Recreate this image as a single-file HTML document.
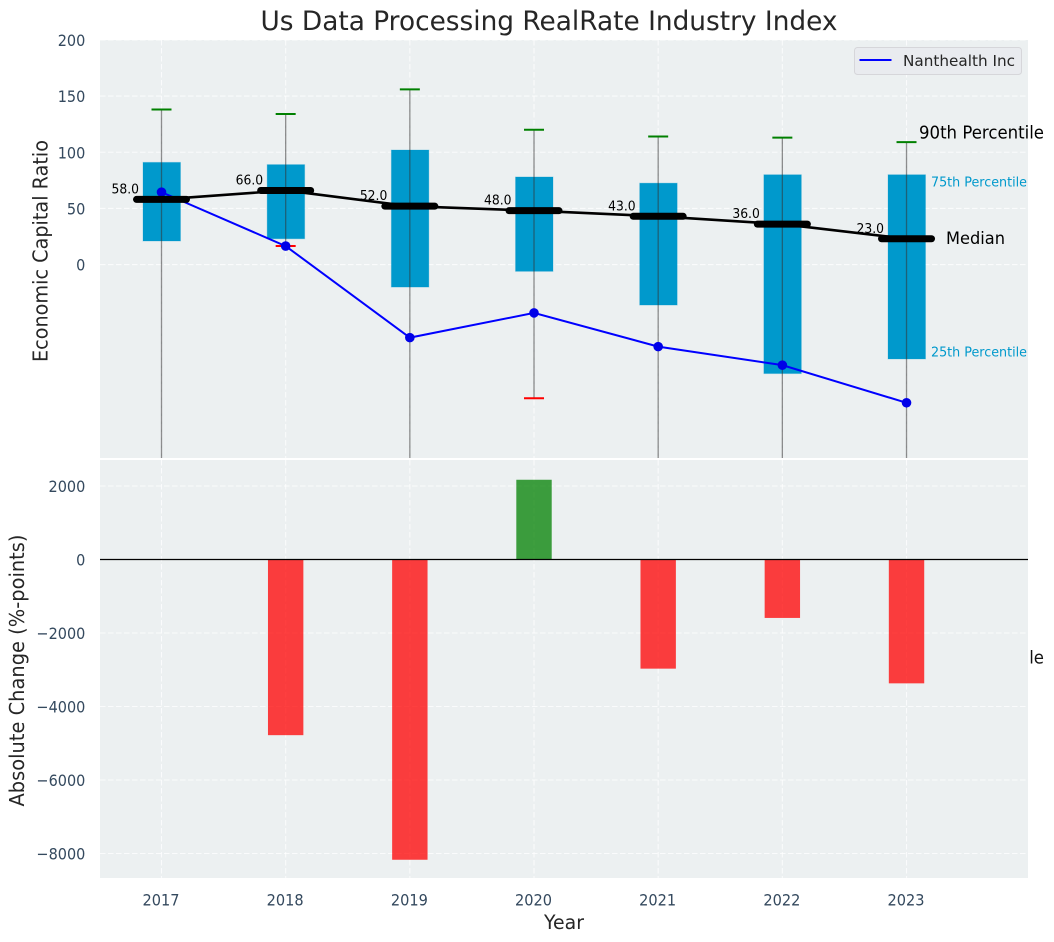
<!DOCTYPE html>
<html>
<head>
<meta charset="utf-8">
<title>Us Data Processing RealRate Industry Index</title>
<style>
html,body{margin:0;padding:0;background:#fff;width:1054px;height:942px;overflow:hidden}
svg{display:block}
text{font-family:"DejaVu Sans","Liberation Sans",sans-serif}
</style>
</head>
<body>
<svg id="chart" width="1054" height="942" viewBox="0 0 1054 942" xmlns="http://www.w3.org/2000/svg">
<defs>
<clipPath id="top-clip"><rect x="100" y="40" width="928" height="418"></rect></clipPath>
</defs>
</svg>
<script>
const years = [2017, 2018, 2019, 2020, 2021, 2022, 2023];
const p90 = [138, 134, 156, 120, 114, 113, 109];
const q3 = [91, 89, 102, 78, 72.5, 80, 80];
const medians = [58, 66, 52, 48, 43, 36, 23];
const q1 = [21, 23, -20, -6, -36, -97, -84];
const p10 = [-200, 16.5, -200, -119, -200, -200, -200];
const company = [64.5, 16.5, -65, -43, -73, -89.5, -123];
const changes = [0, -4780, -8170, 2170, -2970, -1590, -3370];
const topTicks = [0, 50, 100, 150, 200];
const bottomTicks = [-8000, -6000, -4000, -2000, 0, 2000];

const NS = 'http://www.w3.org/2000/svg';
const svg = document.getElementById('chart');
const xScale = function (y) { return 161.5 + (y - 2017) * 124.17; };
const yTop = function (v) { return 264.6 - v * 1.1235; };
const yBottom = function (v) { return 559.5 - v * 0.03675; };

function mk(tag, attrs, parent, txt) {
  const el = document.createElementNS(NS, tag);
  for (const k in attrs) { el.setAttribute(k, attrs[k]); }
  if (txt !== undefined) { el.textContent = txt; }
  (parent || svg).appendChild(el);
  return el;
}
function fmtTick(v) { return (v < 0 ? '\u2212' : '') + Math.abs(v); }
function tickWidth(v) { return String(Math.abs(v)).length * 9.2 + (v < 0 ? 12 : 0); }

let el;
const GRID = {stroke: '#ffffff', 'stroke-width': 1.1, 'stroke-dasharray': '5.5 2.5', 'stroke-opacity': 0.75};
const FIT = 'spacingAndGlyphs';

/* hidden annotation drawn beneath the lower panel: only its tail shows */
el = mk('text', {x: 919, y: 663.5, 'font-size': 17.5, fill: '#111111', textLength: 125, lengthAdjust: FIT}, svg, '10th Percentile');



/* panels */
el = mk('rect', {x: 100, y: 40, width: 928, height: 418, fill: '#ecf0f1'});


el = mk('rect', {x: 100, y: 460, width: 928, height: 418, fill: '#ecf0f1'});



/* grid */
const topGrid = mk('g', {});


const bottomGrid = mk('g', {});


topTicks.forEach(function (t) {
  const line = mk('line', Object.assign({x1: 100, x2: 1028, y1: yTop(t), y2: yTop(t)}, GRID), topGrid);
  
  
  const lab = mk('text', {x: 85.3, y: yTop(t) + 6, 'text-anchor': 'end', 'font-size': 16, fill: '#34495e', textLength: tickWidth(t), lengthAdjust: FIT}, svg, fmtTick(t));
  
  
});
bottomTicks.forEach(function (t) {
  const line = mk('line', Object.assign({x1: 100, x2: 1028, y1: yBottom(t), y2: yBottom(t)}, GRID), bottomGrid);
  
  
  const lab = mk('text', {x: 85.3, y: yBottom(t) + 6, 'text-anchor': 'end', 'font-size': 16, fill: '#34495e', textLength: tickWidth(t), lengthAdjust: FIT}, svg, fmtTick(t));
  
  
});
years.forEach(function (yr) {
  const x = xScale(yr);
  const a = mk('line', Object.assign({x1: x, x2: x, y1: 40, y2: 458}, GRID), topGrid);
  
  
  const b = mk('line', Object.assign({x1: x, x2: x, y1: 460, y2: 878}, GRID), bottomGrid);
  
  
  const lab = mk('text', {x: x - 0.5, y: 905.5, 'text-anchor': 'middle', 'font-size': 16, fill: '#34495e', textLength: 37, lengthAdjust: FIT}, svg, String(yr));
  
  
});

/* top plot */
const topPlot = mk('g', {'clip-path': 'url(#top-clip)'});



years.forEach(function (yr, i) {
  const x = xScale(yr);
  const box = mk('rect', {x: x - 18.5, width: 37.5, y: yTop(q3[i]), height: yTop(q1[i]) - yTop(q3[i]), fill: '#0099cc', stroke: '#0099cc', 'stroke-opacity': 0.25, 'stroke-width': 1}, topPlot);
  
  
});
years.forEach(function (yr, i) {
  const x = xScale(yr);
  const whisker = mk('line', {x1: x, x2: x, y1: yTop(p90[i]), y2: yTop(p10[i]), stroke: '#333333', 'stroke-opacity': 0.55, 'stroke-width': 1.3}, topPlot);
  
  
  const hi = mk('line', {x1: x - 10, x2: x + 10, y1: yTop(p90[i]), y2: yTop(p90[i]), stroke: '#008000', 'stroke-width': 2}, topPlot);
  
  
  const lo = mk('line', {x1: x - 10, x2: x + 10, y1: yTop(p10[i]), y2: yTop(p10[i]), stroke: '#ff0000', 'stroke-width': 2}, topPlot);
  
  
});

/* company line */
const companyPts = years.map(function (yr, i) { return xScale(yr) + ',' + yTop(company[i]); }).join(' ');
el = mk('polyline', {points: companyPts, fill: 'none', stroke: '#0000ff', 'stroke-width': 2}, topPlot);


years.forEach(function (yr, i) {
  const dot = mk('circle', {cx: xScale(yr), cy: yTop(company[i]), r: 4.8, fill: '#0000e8'}, topPlot);
  
  
});

/* median value labels */
years.forEach(function (yr, i) {
  const lab = mk('text', {x: xScale(yr) - 22.5, y: yTop(medians[i]) - 6, 'text-anchor': 'end', 'font-size': 13, fill: '#000000', textLength: 27.5, lengthAdjust: FIT}, svg, medians[i].toFixed(1));
  
  
});

/* median trend + thick markers */
const medianPts = years.map(function (yr, i) { return xScale(yr) + ',' + yTop(medians[i]); }).join(' ');
el = mk('polyline', {points: medianPts, fill: 'none', stroke: '#000000', 'stroke-width': 2.6}, svg);


years.forEach(function (yr, i) {
  const m = mk('line', {x1: xScale(yr) - 25, x2: xScale(yr) + 25, y1: yTop(medians[i]), y2: yTop(medians[i]), stroke: '#000000', 'stroke-width': 7, 'stroke-linecap': 'round'}, svg);
  
  
});

/* bottom bars */
years.forEach(function (yr, i) {
  if (changes[i] === 0) { return; }
  const y0 = yBottom(Math.max(changes[i], 0));
  const y1 = yBottom(Math.min(changes[i], 0));
  const bar = mk('rect', {x: xScale(yr) - 17.7, width: 35.4, y: y0, height: y1 - y0, fill: changes[i] < 0 ? '#ff0000' : '#008000', 'fill-opacity': 0.75}, svg);
  
  
});
el = mk('line', {x1: 100, x2: 1028, y1: yBottom(0), y2: yBottom(0), stroke: '#000000', 'stroke-width': 1.2});



/* annotations */
el = mk('text', {x: 919, y: 138.7, 'font-size': 17.5, fill: '#000000', textLength: 125, lengthAdjust: FIT}, svg, '90th Percentile');


el = mk('text', {x: 931, y: 186.7, 'font-size': 13.4, fill: '#0099cc', textLength: 96, lengthAdjust: FIT}, svg, '75th Percentile');


el = mk('text', {x: 946, y: 244, 'font-size': 17, fill: '#000000', textLength: 59, lengthAdjust: FIT}, svg, 'Median');


el = mk('text', {x: 931, y: 356.7, 'font-size': 13.4, fill: '#0099cc', textLength: 96, lengthAdjust: FIT}, svg, '25th Percentile');



/* titles */
el = mk('text', {x: 549, y: 30, 'text-anchor': 'middle', 'font-size': 27, fill: '#262626', textLength: 577, lengthAdjust: FIT}, svg, 'Us Data Processing RealRate Industry Index');


el = mk('text', {x: 0, y: 0, transform: 'translate(47.7,251) rotate(-90)', 'text-anchor': 'middle', 'font-size': 20, fill: '#262626', textLength: 222, lengthAdjust: FIT}, svg, 'Economic Capital Ratio');


el = mk('text', {x: 0, y: 0, transform: 'translate(24,670.5) rotate(-90)', 'text-anchor': 'middle', 'font-size': 20, fill: '#262626', textLength: 272, lengthAdjust: FIT}, svg, 'Absolute Change (%-points)');


el = mk('text', {x: 564, y: 929, 'text-anchor': 'middle', 'font-size': 19.5, fill: '#262626', textLength: 40, lengthAdjust: FIT}, svg, 'Year');



/* legend */
const legend = mk('g', {});


el = mk('rect', {x: 854.5, y: 47.5, width: 167, height: 27, rx: 3, fill: '#e9ebef', stroke: '#d6d6da', 'stroke-width': 1}, legend);


el = mk('line', {x1: 859.5, x2: 891.5, y1: 60, y2: 60, stroke: '#0000ff', 'stroke-width': 2}, legend);


el = mk('text', {x: 903, y: 66, 'font-size': 15.5, fill: '#262626', textLength: 112, lengthAdjust: FIT}, legend, 'Nanthealth Inc');


</script>
</body>
</html>
